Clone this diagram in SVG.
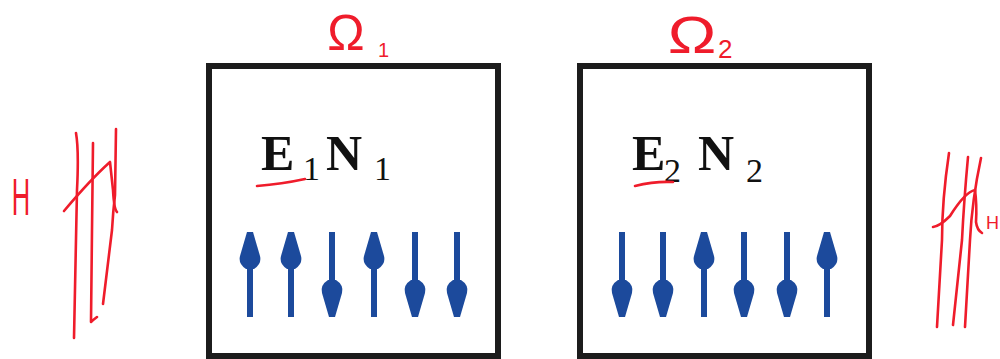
<svg xmlns="http://www.w3.org/2000/svg" xmlns:xlink="http://www.w3.org/1999/xlink" width="1000" height="359" viewBox="0 0 1000 359">
<style>
.box{fill:#fff;stroke:#1c1c1c;stroke-width:6}
.ink{fill:none;stroke:#ef1c2b;stroke-width:2.6;stroke-linecap:round;stroke-linejoin:round}
.hand{font-family:"Liberation Sans",Arial,sans-serif;fill:#ef1c2b}
.big{font-family:"Liberation Serif","Times New Roman",serif;font-weight:bold;font-size:50px;fill:#111}
.sub{font-family:"Liberation Serif","Times New Roman",serif;font-size:34px;fill:#111}
.spin{fill:#1c4a9c}
</style>
<defs>
<g id="up">
<rect x="-3" y="236" width="6" height="81"/>
<path d="M-3,232 L3,232 L10,256 Q12,264 4,269 L-4,269 Q-12,264 -10,256 Z"/>
</g>
</defs>
<rect width="1000" height="359" fill="#fff"/>

<g id="field-left">
<text class="hand" x="21" y="215" font-size="51" text-anchor="middle" transform="translate(21,0) scale(0.5,1) translate(-21,0)">H</text>
<path class="ink" d="M76,133 Q79,150 77,190 L74,338"/>
<path class="ink" d="M93,143 L92,230 L91,322 Q93,320 97,317"/>
<path class="ink" d="M116,129 L115,195 Q113,212 112,230 L103,304"/>
<path class="ink" d="M64,211 Q90,180 110,162 L113,190 Q114,209 117,212"/>
</g>

<g id="field-right">
<path class="ink" d="M949,153 Q942,200 942,240 L937,327"/>
<path class="ink" d="M968,157 Q964,200 962,240 L953,325"/>
<path class="ink" d="M981,158 Q972,200 970,240 L965,327"/>
<path class="ink" d="M933,227 Q940,226 950,216 Q965,192 975,190 Q977,205 976,222 Q977,230 982,233"/>
<text class="hand" x="986" y="229" font-size="18">H</text>
</g>

<g id="omega1">
<rect class="box" x="209" y="66" width="289" height="290"/>
<text class="hand" x="346" y="50" font-size="50" text-anchor="middle">Ω</text>
<text class="hand" x="378" y="57" font-size="20">1</text>
<text class="big" x="261" y="170">E</text>
<text class="sub" x="303" y="180">1</text>
<text class="big" x="326" y="170">N</text>
<text class="sub" x="374" y="180">1</text>
<path class="ink" d="M257,186 Q282,184 305,179"/>
<g class="spin">
<use xlink:href="#up" transform="translate(250,0)"/>
<use xlink:href="#up" transform="translate(291,0)"/>
<use xlink:href="#up" transform="translate(332,549) scale(1,-1)"/>
<use xlink:href="#up" transform="translate(374,0)"/>
<use xlink:href="#up" transform="translate(415,549) scale(1,-1)"/>
<use xlink:href="#up" transform="translate(457,549) scale(1,-1)"/>
</g>
</g>

<g id="omega2">
<rect class="box" x="580" y="66" width="289" height="290"/>
<text class="hand" x="692" y="53" font-size="52" text-anchor="middle" transform="translate(692,0) scale(1.25,1) translate(-692,0)">Ω</text>
<text class="hand" x="718" y="58" font-size="26">2</text>
<text class="big" x="632" y="170">E</text>
<text class="sub" x="664" y="182">2</text>
<text class="big" x="698" y="170">N</text>
<text class="sub" x="746" y="182">2</text>
<path class="ink" d="M635,186 Q655,181 673,182"/>
<g class="spin">
<use xlink:href="#up" transform="translate(622,549) scale(1,-1)"/>
<use xlink:href="#up" transform="translate(663,549) scale(1,-1)"/>
<use xlink:href="#up" transform="translate(704,0)"/>
<use xlink:href="#up" transform="translate(744,549) scale(1,-1)"/>
<use xlink:href="#up" transform="translate(787,549) scale(1,-1)"/>
<use xlink:href="#up" transform="translate(827,0)"/>
</g>
</g>
</svg>
